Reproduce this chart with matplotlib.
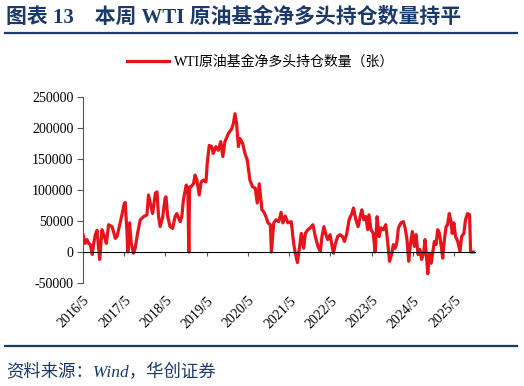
import matplotlib
matplotlib.use('Agg')
import matplotlib.pyplot as plt
import pandas as pd

plt.rcParams['font.family'] = ['Liberation Serif', 'Noto Sans CJK SC', 'DejaVu Sans']
plt.rcParams['axes.unicode_minus'] = False

# WTI 原油基金净多头持仓（张）
dates = [
    '2016-05-01', '2016-05-21', '2016-06-06', '2016-06-20', '2016-07-05', '2016-07-22',
    '2016-08-04', '2016-08-18', '2016-09-03', '2016-09-14', '2016-09-26', '2016-10-16',
    '2016-11-06', '2016-11-24', '2016-12-14', '2017-01-13', '2017-02-12', '2017-02-26',
    '2017-03-26', '2017-04-13', '2017-05-01', '2017-05-10', '2017-05-24', '2017-06-02',
    '2017-06-17', '2017-07-02', '2017-07-22', '2017-08-06', '2017-08-27', '2017-09-20',
    '2017-10-19', '2017-11-18', '2017-12-02', '2017-12-17', '2018-01-07', '2018-02-01',
    '2018-02-15', '2018-03-01', '2018-03-15', '2018-04-07', '2018-04-28', '2018-05-06',
    '2018-05-21', '2018-06-11', '2018-07-04', '2018-07-25', '2018-08-09', '2018-09-08',
    '2018-09-23', '2018-10-07', '2018-11-01', '2018-11-15', '2018-11-24', '2018-12-01',
    '2018-12-12', '2019-01-04', '2019-01-18', '2019-02-03', '2019-02-24', '2019-03-13',
    '2019-04-01', '2019-04-25', '2019-05-06', '2019-05-24', '2019-06-15', '2019-06-28',
    '2019-07-22', '2019-08-12', '2019-09-03', '2019-09-21', '2019-10-10', '2019-11-09',
    '2019-12-09', '2019-12-23', '2020-01-07', '2020-01-21', '2020-02-06', '2020-02-20',
    '2020-03-15', '2020-04-04', '2020-04-25', '2020-05-18', '2020-06-11', '2020-07-04',
    '2020-07-22', '2020-08-09', '2020-09-01', '2020-09-17', '2020-10-07', '2020-10-25',
    '2020-11-15', '2020-11-24', '2020-12-15', '2021-01-04', '2021-01-28', '2021-02-18',
    '2021-03-06', '2021-03-27', '2021-04-19', '2021-05-19', '2021-06-09', '2021-06-24',
    '2021-07-13', '2021-07-28', '2021-08-16', '2021-09-06', '2021-09-21', '2021-10-13',
    '2021-11-03', '2021-11-27', '2021-12-18', '2022-01-10', '2022-02-01', '2022-02-15',
    '2022-03-04', '2022-03-22', '2022-04-07', '2022-04-28', '2022-05-13', '2022-05-28',
    '2022-06-12', '2022-07-04', '2022-07-25', '2022-08-15', '2022-09-02', '2022-09-23',
    '2022-10-13', '2022-11-06', '2022-11-21', '2022-12-12', '2023-01-01', '2023-01-19',
    '2023-02-03', '2023-02-21', '2023-03-10', '2023-03-27', '2023-04-07', '2023-04-25',
    '2023-05-15', '2023-06-01', '2023-06-18', '2023-07-06', '2023-07-22', '2023-08-12',
    '2023-09-03', '2023-09-21', '2023-10-06', '2023-10-25', '2023-11-09', '2023-11-24',
    '2023-12-09', '2023-12-24', '2024-01-15', '2024-02-06', '2024-02-21', '2024-03-09',
    '2024-03-24', '2024-04-08', '2024-04-25', '2024-05-13', '2024-05-28', '2024-06-15',
    '2024-07-01', '2024-07-16', '2024-08-03', '2024-08-15', '2024-08-28', '2024-09-09',
    '2024-09-24', '2024-10-09', '2024-10-22', '2024-11-06', '2024-11-21', '2024-12-06',
    '2024-12-21', '2025-01-06', '2025-01-19', '2025-02-03', '2025-02-18', '2025-03-03',
    '2025-03-18', '2025-04-03', '2025-04-13', '2025-04-28', '2025-05-13', '2025-06-01',
    '2025-06-21', '2025-07-06', '2025-07-25', '2025-08-09', '2025-08-27', '2025-09-14',
    '2025-09-23', '2025-11-01',
]
net_long = [
    28000, 14000, 20000, 14000, 12000, -4000,
    14000, 28000, 35000, 10000, -12000, 36000,
    25000, 14000, 44000, 41000, 22000, 25000,
    47000, 62000, 78000, 80000, 36000, 0,
    47000, 14000, -2000, 6000, 30000, 52000,
    57000, 60000, 92000, 79000, 62000, 95000,
    97000, 57000, 41000, 57000, 87000, 89000,
    57000, 41000, 38000, 57000, 62000, 49000,
    57000, 84000, 108000, 100000, 0, 105000,
    105000, 110000, 124000, 116000, 92000, 113000,
    116000, 113000, 143000, 172000, 170000, 159000,
    170000, 164000, 178000, 154000, 178000, 191000,
    199000, 207000, 223000, 207000, 170000, 183000,
    175000, 159000, 148000, 116000, 105000, 103000,
    79000, 110000, 68000, 65000, 57000, 47000,
    44000, 0, 47000, 52000, 49000, 64000,
    47000, 58000, 47000, 49000, 14000, -2000,
    -17000, 4000, 30000, 6000, 30000, 36000,
    39000, 44000, 25000, 9000, 1000, 25000,
    41000, 28000, 20000, 28000, 12000, -2000,
    12000, 25000, 28000, 25000, 17000, 30000,
    52000, 62000, 71000, 52000, 41000, 57000,
    68000, 52000, 57000, 36000, 60000, 36000,
    30000, 0, 57000, 25000, 39000, 36000,
    44000, 14000, -15000, -4000, 12000, 6000,
    14000, 39000, 47000, 49000, 39000, 20000,
    -15000, 12000, 33000, 9000, 28000, -4000,
    4000, -12000, -2000, 20000, -7000, -35000,
    -2000, -18000, -2000, 17000, 12000, 36000,
    30000, 9000, -10000, 20000, 41000, 44000,
    62000, 49000, 30000, 47000, 25000, 17000,
    1000, 25000, 30000, 52000, 62000, 60000,
    0, 0,
]
tick_years = list(range(2016, 2026))
series_name = 'WTI原油基金净多头持仓数量（张）'
title = '图表 13　本周 WTI 原油基金净多头持仓数量持平'
source = '资料来源：Wind，华创证券'

navy = '#1B3A6B'
red = '#E8141C'

x = pd.to_datetime(dates)

fig = plt.figure(figsize=(5.24, 3.86), dpi=100)
ax = fig.add_axes([0.1584, 0.2668, 0.7481, 0.4819])

ax.plot(x, net_long, color=red, lw=2.3, label=series_name, solid_joinstyle='round')

ax.set_xlim(x[0], x[-1])
ax.set_ylim(-50000, 250000)
ax.set_yticks(range(-50000, 250001, 50000))
ax.tick_params(axis='y', direction='out', length=4, width=0.8, color='#555555',
               labelsize=10, pad=3)

for s in ['top', 'right']:
    ax.spines[s].set_visible(False)
ax.spines['left'].set_color('#555555')
ax.spines['bottom'].set_position(('data', 0))
ax.spines['bottom'].set_color('black')

ticks = pd.to_datetime(['%d-05-01' % y for y in tick_years])
ax.set_xticks(ticks)
ax.tick_params(axis='x', direction='out', length=3, width=0.8, color='#555555',
               labelbottom=False)

sec = ax.secondary_xaxis(0.0)
sec.set_xticks(ticks)
sec.set_xticklabels(['%d/5' % y for y in tick_years], rotation=45, ha='right',
                    rotation_mode='anchor', fontsize=10)
sec.tick_params(axis='x', length=0, pad=8)
sec.spines['bottom'].set_visible(False)

fig.legend(loc='center', bbox_to_anchor=(0.498, 1 - 62 / 386), frameon=False,
           fontsize=10, handlelength=3.0, handletextpad=0.4)

fig.text(0.012, 1 - 18 / 386, title, fontsize=15, fontweight='bold', color=navy,
         va='center', ha='left')
fig.add_artist(plt.Line2D([0.01, 0.987], [1 - 33 / 386] * 2, color=navy, lw=1.6))
fig.add_artist(plt.Line2D([0.01, 0.987], [1 - 346 / 386] * 2, color=navy, lw=1.6))
fig.text(0.012, 1 - 373 / 386, source, fontsize=12.5, style='italic', color=navy,
         va='center', ha='left')

fig.savefig('out.png', dpi=100)
